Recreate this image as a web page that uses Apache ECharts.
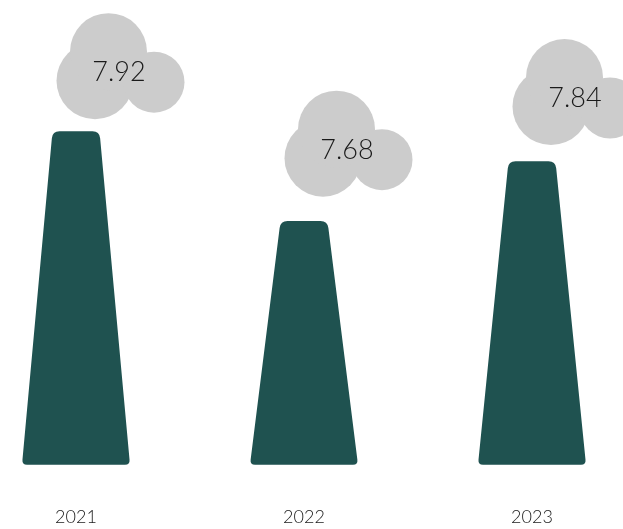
<!DOCTYPE html>
<html>
<head>
<meta charset="utf-8">
<style>
  html, body { margin: 0; padding: 0; background: #fff; }
  #chart { width: 623px; height: 529px; overflow: hidden; }
</style>
<script src="https://cdn.jsdelivr.net/npm/echarts@6/dist/echarts.min.js"></script>
</head>
<body>
<div id="chart"></div>
<script>
const years = ['2021', '2022', '2023'];
const scores = [7.92, 7.68, 7.84];

const BAR_COLOR = '#1f5250';
const CLOUD_COLOR = '#cccccc';
const TEXT_COLOR = '#1a1a1a';
const FONT = 'Lato, "Open Sans", sans-serif';

// Chimney outline: a trapezoid with softened corners.
function chimneyPath(cx, top, bottom) {
  const topHalf = 23.5, baseHalf = 54, rTop = 7, rBase = 5;
  const slope = (baseHalf - topHalf) / (bottom - top);
  const p = (x, y) => x.toFixed(2) + ' ' + y.toFixed(2);
  return [
    'M', p(cx - topHalf + rTop, top),
    'L', p(cx + topHalf - rTop, top),
    'Q', p(cx + topHalf, top), p(cx + topHalf + slope * rTop, top + rTop),
    'L', p(cx + baseHalf - slope * rBase, bottom - rBase),
    'Q', p(cx + baseHalf, bottom), p(cx + baseHalf - rBase, bottom),
    'L', p(cx - baseHalf + rBase, bottom),
    'Q', p(cx - baseHalf, bottom), p(cx - baseHalf + slope * rBase, bottom - rBase),
    'L', p(cx - topHalf - slope * rTop, top + rTop),
    'Q', p(cx - topHalf, top), p(cx - topHalf + rTop, top),
    'Z'
  ].join(' ');
}

function renderChimney(params, api) {
  const topPt = api.coord([api.value(0), api.value(1)]);
  const bottom = params.coordSys.y + params.coordSys.height;
  return {
    type: 'path',
    shape: { pathData: chimneyPath(topPt[0], topPt[1], bottom) },
    style: { fill: BAR_COLOR }
  };
}

// Smoke cloud: three overlapping puffs with the score written across them.
function renderCloud(params, api) {
  const pt = api.coord([api.value(0), api.value(1)]);
  const puff = (dx, dy, r) => ({
    type: 'circle',
    shape: { cx: pt[0] + dx, cy: pt[1] + dy, r: r },
    style: { fill: CLOUD_COLOR }
  });
  return {
    type: 'group',
    children: [
      puff(19, 0, 38.5),
      puff(32.5, -29, 38.5),
      puff(78, 1.5, 30.5),
      {
        type: 'text',
        x: pt[0] + 43,
        y: pt[1] - 8,
        style: {
          text: api.value(1).toFixed(2),
          fill: TEXT_COLOR,
          font: '300 27px ' + FONT,
          align: 'center',
          verticalAlign: 'middle'
        }
      }
    ]
  };
}

const chart = echarts.init(document.getElementById('chart'), null, { renderer: 'canvas' });
const seriesData = years.map((y, i) => [i, scores[i]]);

chart.setOption({
  animation: false,
  backgroundColor: '#ffffff',
  grid: { left: -38, width: 684, top: 0, height: 464.7, outerBoundsMode: 'none' },
  xAxis: {
    type: 'category',
    data: years,
    axisLine: { show: false },
    axisTick: { show: false },
    axisLabel: {
      margin: 43,
      color: TEXT_COLOR,
      fontFamily: FONT,
      fontWeight: 300,
      fontSize: 18
    }
  },
  yAxis: [
    { type: 'value', min: 7.03, max: 8.27, show: false },
    { type: 'value', min: 6.73, max: 8.17, show: false }
  ],
  series: [
    {
      type: 'custom',
      yAxisIndex: 0,
      clip: false,
      renderItem: renderChimney,
      encode: { x: 0, y: 1 },
      data: seriesData
    },
    {
      type: 'custom',
      yAxisIndex: 1,
      clip: false,
      renderItem: renderCloud,
      encode: { x: 0, y: 1 },
      data: seriesData
    }
  ]
});
</script>
</body>
</html>
